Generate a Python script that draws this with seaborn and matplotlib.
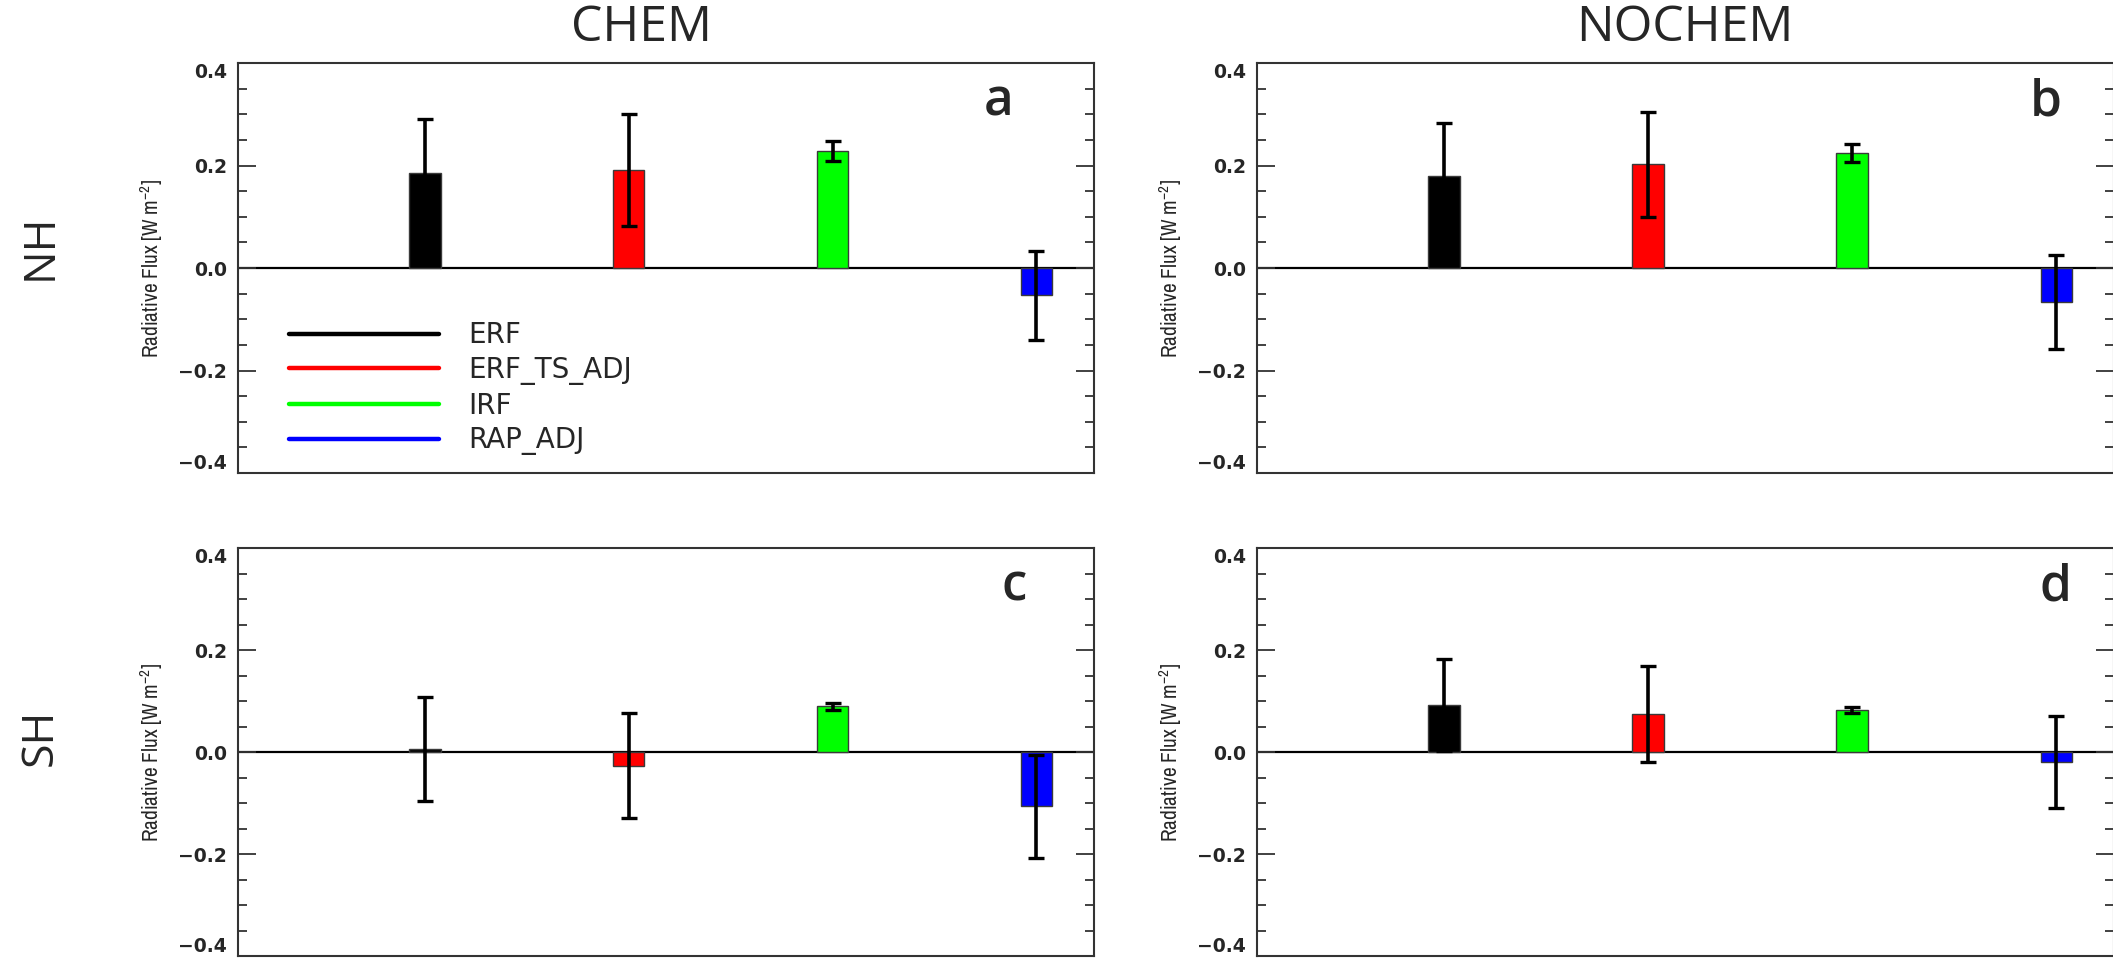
import matplotlib
matplotlib.use("Agg")
import numpy as np
import pandas as pd
import matplotlib.pyplot as plt
from matplotlib.lines import Line2D
from matplotlib.ticker import MultipleLocator
from matplotlib import font_manager as fm
import seaborn as sns

# ---- data -------------------------------------------------------------
terms = ["ERF", "ERF_TS_ADJ", "IRF", "RAP_ADJ"]
term_colors = ["#000000", "#ff0000", "#00ff00", "#0000ff"]
experiments = ["CHEM", "NOCHEM"]
hemispheres = ["NH", "SH"]
panel_tags = ["a", "b", "c", "d"]

chem_nh = [0.185, 0.191, 0.228, -0.053]
chem_nh_err = [0.106, 0.110, 0.019, 0.087]
nochem_nh = [0.180, 0.202, 0.224, -0.067]
nochem_nh_err = [0.102, 0.103, 0.017, 0.092]
chem_sh = [0.006, -0.027, 0.090, -0.106]
chem_sh_err = [0.102, 0.103, 0.007, 0.101]
nochem_sh = [0.092, 0.074, 0.082, -0.020]
nochem_sh_err = [0.090, 0.094, 0.0065, 0.090]

ytick_values = [-0.4, -0.2, 0.0, 0.2, 0.4]
ytick_labels = ["\u22120.4", "\u22120.2", "0.0", "0.2", "0.4"]
ylabel_text = r"Radiative Flux [W m$^{\mathregular{-2}}$]"

# ---- style ------------------------------------------------------------
sns.set_style("ticks")
plt.rcParams["font.family"] = ["DejaVu Sans"]


def narrow_font():
    """Return FontProperties for a narrow/condensed upright sans, if any."""
    best = None
    for f in fm.fontManager.ttflist:
        key = (f.name + " " + f.fname).lower()
        if "mono" in key or "serif" in key.replace("sans", ""):
            continue
        if f.style != "normal":
            continue
        if f.weight not in (400, "normal", "regular", "book"):
            continue
        if "narrow" in key:
            rank = 0
        elif "condensed" in key and "semi" not in key and "extra" not in key:
            rank = 1
        elif "semicondensed" in key or "semi condensed" in key:
            rank = 2
        elif "condensed" in key:
            rank = 3
        else:
            continue
        if best is None or rank < best[0]:
            best = (rank, f.fname)
    if best is None:
        return fm.FontProperties(family="DejaVu Sans")
    return fm.FontProperties(fname=best[1])


label_font = narrow_font()

W, H = 2113, 960
fig = plt.figure(figsize=(W / 100, H / 100), dpi=100)


def box(left, top, right, bottom):
    return [left / W, 1 - bottom / H, (right - left) / W, (bottom - top) / H]


panel_rects = [
    box(238, 63, 1094, 473),
    box(1257, 63, 2114, 473),
    box(238, 548, 1094, 956),
    box(1257, 548, 2114, 956),
]
tag_xy = [(0.889, 0.871), (0.921, 0.871), (0.907, 0.871), (0.932, 0.871)]

values = [chem_nh, nochem_nh, chem_sh, nochem_sh]
errors = [chem_nh_err, nochem_nh_err, chem_sh_err, nochem_sh_err]

spine_color = "#333333"
axes = []
for i, rect in enumerate(panel_rects):
    ax = fig.add_axes(rect)
    axes.append(ax)
    df = pd.DataFrame({"term": terms, "value": values[i], "err": errors[i]})
    ax.axhline(0, color="black", lw=1.6, zorder=0.5)
    sns.barplot(data=df, x="term", y="value", hue="term", order=terms,
                hue_order=terms, palette=term_colors, width=0.155,
                errorbar=None, legend=False, edgecolor="#3a3a3a",
                linewidth=1.0, saturation=1, ax=ax)
    ax.errorbar(x=np.arange(len(terms)), y=df["value"], yerr=df["err"],
                fmt="none", ecolor="black", elinewidth=2.6, capsize=6,
                capthick=2.4, zorder=5)
    ax.set_xlim(-0.916, 3.282)
    ax.set_ylim(-0.4, 0.4)
    ax.set_xticks([])
    ax.set_xlabel("")
    ax.set_yticks(ytick_values)
    ax.set_yticklabels(ytick_labels, fontsize=13.5, fontweight="bold")
    tl = ax.get_yticklabels()
    tl[0].set_verticalalignment("bottom")
    tl[-1].set_verticalalignment("top")
    ax.yaxis.set_minor_locator(MultipleLocator(0.05))
    ax.tick_params(axis="y", which="both", direction="in", left=True,
                   right=True, color=spine_color, width=1.3, pad=8)
    ax.tick_params(axis="y", which="major", length=13)
    ax.tick_params(axis="y", which="minor", length=6.5)
    for sp in ax.spines.values():
        sp.set_visible(True)
        sp.set_linewidth(1.5)
        sp.set_color(spine_color)
    ax.set_ylabel(ylabel_text, fontproperties=label_font, fontsize=16)
    ax.yaxis.set_label_coords(-0.0855, 0.5)
    ax.text(tag_xy[i][0], tag_xy[i][1], panel_tags[i], transform=ax.transAxes,
            ha="center", va="baseline", fontsize=37, family="Open Sans",
            fontweight="semibold")

# size the axis titles so they span about 179 px along the axis
renderer = fig.canvas.get_renderer()
lab = axes[0].yaxis.label
span = lab.get_window_extent(renderer).height
new_size = 16 * 179.0 / span
for ax in axes:
    ax.yaxis.label.set_fontsize(new_size)

# legend in the first panel
handles = [Line2D([], [], color=c, lw=3.2) for c in term_colors]
axes[0].legend(handles, terms, loc="upper left", bbox_to_anchor=(0.0596, 0.37),
               frameon=False, fontsize=20, handlelength=5.4, handletextpad=1.05,
               labelspacing=0.24, borderpad=0, borderaxespad=0)

# column titles and row labels
fig.text(642 / W, 1 - 28 / H, experiments[0], ha="center", va="center",
         fontsize=36, family="Open Sans")
fig.text(1685 / W, 1 - 28 / H, experiments[1], ha="center", va="center",
         fontsize=36, family="Open Sans")
fig.text(40 / W, 1 - 247 / H, hemispheres[0], ha="center", va="center",
         rotation=90, fontsize=32, family="Open Sans")
fig.text(40 / W, 1 - 737 / H, hemispheres[1], ha="center", va="center",
         rotation=90, fontsize=32, family="Open Sans")

fig.savefig("out.png", dpi=100, facecolor="white")
